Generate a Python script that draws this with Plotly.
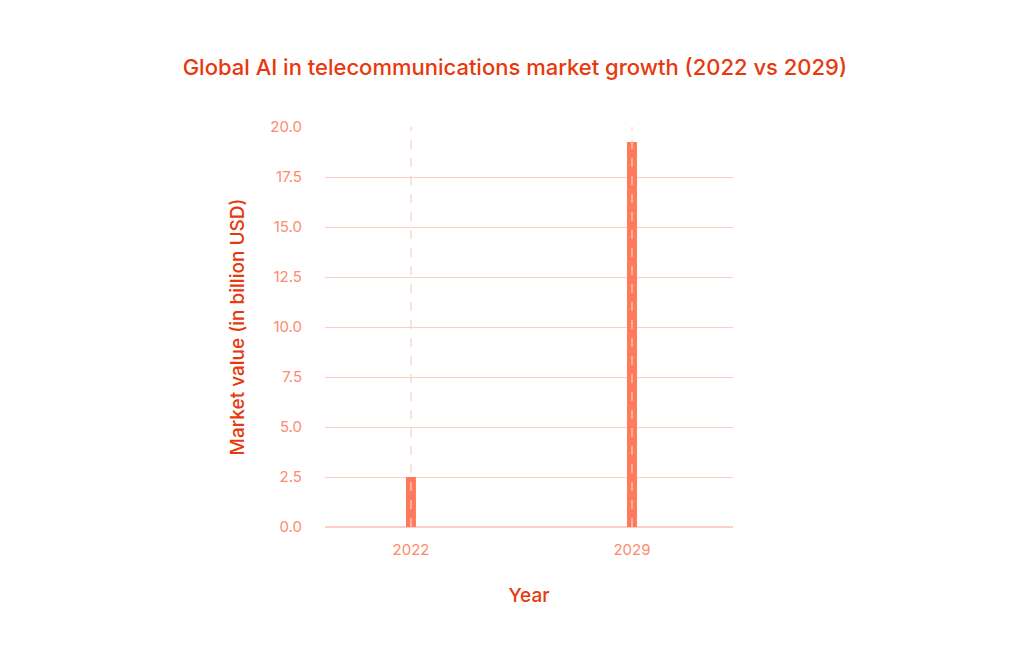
import plotly.graph_objects as go

years = ["2022", "2029"]
values = [2.5, 19.25]
tick_vals = [0, 2.5, 5, 7.5, 10, 12.5, 15, 17.5, 20]
tick_text = ["0.0", "2.5", "5.0", "7.5", "10.0", "12.5", "15.0", "17.5", "20.0"]

fig = go.Figure(go.Bar(x=years, y=values, width=0.045, marker=dict(color="#FF7A5C", line=dict(width=0))))

for i, yr in enumerate(years):
    fig.add_shape(type="line", xref="x", yref="y", x0=i, x1=i, y0=0, y1=20,
                  line=dict(color="#FCCFC3", width=1.2, dash="dash"), layer="above")

font = "Inter, Lato, sans-serif"
fig.update_layout(
    width=1024, height=662, plot_bgcolor="white", paper_bgcolor="white",
    margin=dict(l=317, r=299, t=119, b=143),
    title=dict(text="Global AI in telecommunications market growth (2022 vs 2029)",
               x=0.495, xref="container", xanchor="center", y=0.91, yanchor="middle",
               font=dict(family=font, size=22, color="#E8380D", weight=500)),
    font=dict(family=font),
    showlegend=False,
    xaxis=dict(range=[-0.389, 1.457], showgrid=False, showline=False, zeroline=False,
               tickfont=dict(size=15, color="#FF8A6E"), ticklabelstandoff=12,
               title=dict(text="Year", font=dict(size=19, color="#E8380D", weight=500), standoff=30)),
    yaxis=dict(range=[0, 20], tickvals=tick_vals, ticktext=tick_text,
               gridcolor="#FCCFC3", gridwidth=1, zeroline=True, zerolinecolor="#FCCFC3",
               showline=False, tickfont=dict(size=15, color="#FF8A6E"), ticklabelstandoff=22,
               title=dict(text="Market value (in billion USD)", font=dict(size=19, color="#E8380D", weight=500), standoff=20)),
)
fig.write_html("out.html")
